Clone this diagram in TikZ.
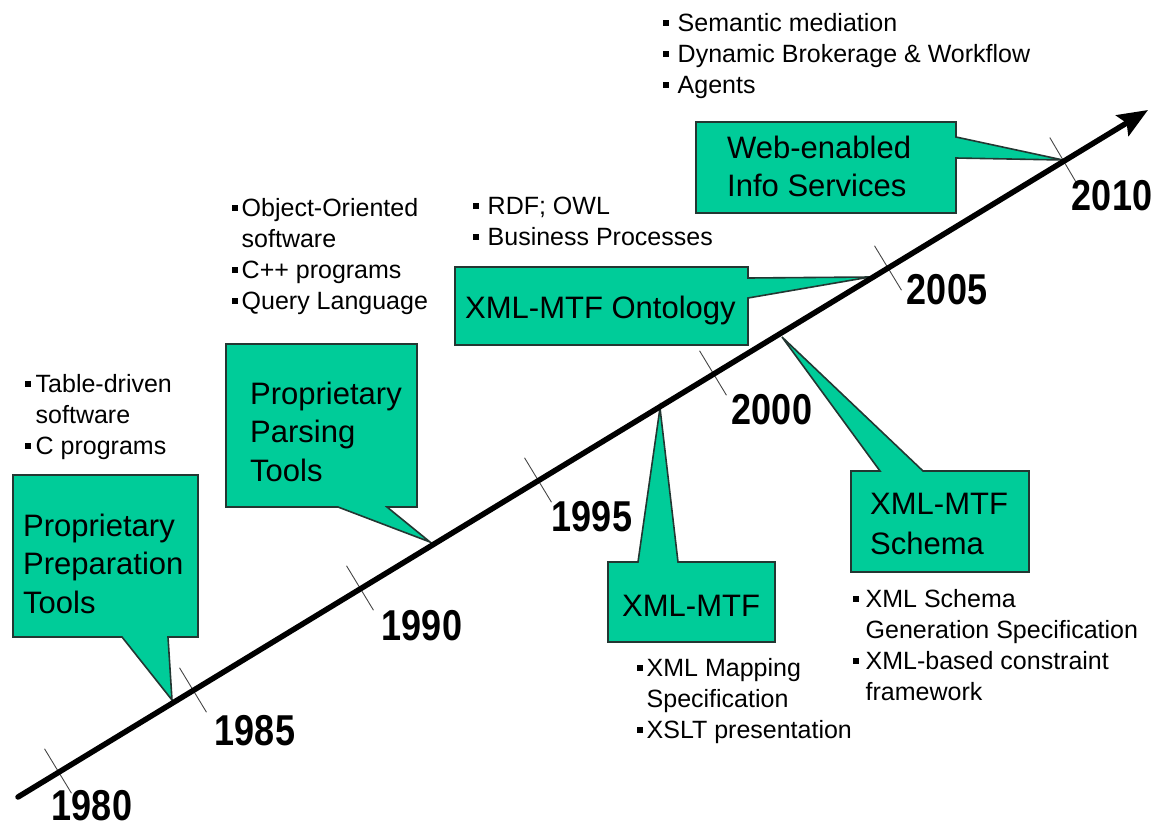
\documentclass[tikz,border=0pt]{standalone}
\usepackage{fontspec}
\setmainfont{Liberation Sans}
\usepackage{graphicx}
\usetikzlibrary{arrows.meta,calc,backgrounds}
\definecolor{calloutfill}{RGB}{0,204,153}
\definecolor{calloutedge}{RGB}{35,55,50}
\definecolor{tickgray}{RGB}{70,70,70}
\newcommand{\blt}{\rule[0.22em]{0.22em}{0.22em}}
\newcommand{\blist}[2]{\begin{tabular}[t]{@{}l@{\hspace{#1}}l@{}}#2\end{tabular}}
\newcommand{\btext}[1]{\begin{tabular}[t]{@{}l@{}}#1\end{tabular}}
\begin{document}
\begin{tikzpicture}[x=1pt,y=-1pt,
  callout/.style={fill=calloutfill,draw=calloutedge,line width=1.6pt,line join=miter},
  boxnode/.style={draw=none,inner sep=0pt,outer sep=0pt,rectangle},
  boxtext/.style={anchor=base west,inner sep=0pt,font=\fontsize{31}{38.5}\selectfont},
  listtext/.style={anchor=base west,inner sep=0pt,font=\fontsize{25}{31}\selectfont},
  yearlabel/.style={inner sep=0pt,font=\fontsize{36}{36}\selectfont\bfseries},
  tickline/.style={draw=tickgray,line width=0.9pt},
  axisline/.style={line width=5.5pt,line cap=round,-{Stealth[length=30pt,width=24pt,inset=5pt]}}]
\useasboundingbox (0,0) rectangle (1156,828);

% axis end points
\coordinate (a0) at (18,797);
\coordinate (a1) at (1148,110);

% tick positions
\coordinate (k1980) at (58,771);
\coordinate (k1985) at (193,690);
\coordinate (k1990) at (360,588);
\coordinate (k1995) at (538,480);
\coordinate (k2000) at (713,373);
\coordinate (k2005) at (888,268);
\coordinate (k2010) at (1063,160);

% callout tips
\coordinate (p1) at (172,700);
\coordinate (p2) at (430,542);
\coordinate (p3) at (870,277);
\coordinate (p4) at (660,408);
\coordinate (p5) at (782,337);
\coordinate (p6) at (1063,160);

% boxes
\node[boxnode,minimum width=185pt,minimum height=162pt] (b1) at (105.5,556) {};
\node[boxnode,minimum width=191pt,minimum height=163pt] (b2) at (321.5,425.5) {};
\node[boxnode,minimum width=293pt,minimum height=78pt] (b3) at (601.5,306) {};
\node[boxnode,minimum width=167pt,minimum height=80pt] (b4) at (691.5,602) {};
\node[boxnode,minimum width=178pt,minimum height=101pt] (b5) at (940,521.5) {};
\node[boxnode,minimum width=260pt,minimum height=91pt] (b6) at (826,167.5) {};

\begin{pgfonlayer}{background}
\draw[callout] (b1.north west) -- (b1.north east) -- (b1.south east)
  -- ($(b1.south west)+(155,0)$) -- (p1) -- ($(b1.south west)+(109,0)$) -- (b1.south west) -- cycle;
\draw[callout] (b2.north west) -- (b2.north east) -- (b2.south east)
  -- ($(b2.south west)+(161,0)$) -- (p2) -- ($(b2.south west)+(112,0)$) -- (b2.south west) -- cycle;
\draw[callout] (b3.north west) -- (b3.north east) -- ($(b3.north east)+(0,11)$)
  -- (p3) -- ($(b3.north east)+(0,31)$) -- (b3.south east) -- (b3.south west) -- cycle;
\draw[callout] (b4.north west) -- ($(b4.north west)+(30,0)$) -- (p4)
  -- ($(b4.north west)+(70,0)$) -- (b4.north east) -- (b4.south east) -- (b4.south west) -- cycle;
\draw[callout] (b5.north west) -- ($(b5.north west)+(29,0)$) -- (p5)
  -- ($(b5.north west)+(72,0)$) -- (b5.north east) -- (b5.south east) -- (b5.south west) -- cycle;
\draw[callout] (b6.north west) -- (b6.north east) -- ($(b6.north east)+(0,15)$)
  -- (p6) -- ($(b6.north east)+(0,36)$) -- (b6.south east) -- (b6.south west) -- cycle;
\end{pgfonlayer}

% ticks
\foreach \k in {k1980,k1985,k1990,k1995,k2000,k2005,k2010}{
  \draw[tickline] ($(\k)!26pt!90:(a1)$) -- ($(\k)!26pt!-90:(a1)$);
}

% axis
\draw[axisline] (a0) -- (a1);

% box texts
\node[boxtext] (t1) at (23,536) {\btext{Proprietary\\Preparation\\Tools}};
\node[boxtext] (t2) at (250,404) {\btext{Proprietary\\Parsing\\Tools}};
\node[boxtext] (t3) at (465,318) {XML-MTF Ontology};
\node[boxtext] (t4) at (622,616) {XML-MTF};
\node[boxtext,font=\fontsize{31}{40}\selectfont] (t5) at (870,514) {\btext{XML-MTF\\Schema}};
\node[boxtext] (t6) at (727,158) {\btext{Web-enabled\\Info Services}};

% year labels
\node[yearlabel] (y1980) at (92,806) {\scalebox{1}[1.2]{1980}};
\node[yearlabel] (y1985) at (255,731) {\scalebox{1}[1.2]{1985}};
\node[yearlabel] (y1990) at (422,626) {\scalebox{1}[1.2]{1990}};
\node[yearlabel] (y1995) at (592,517) {\scalebox{1}[1.2]{1995}};
\node[yearlabel] (y2000) at (772,410) {\scalebox{1}[1.2]{2000}};
\node[yearlabel] (y2005) at (947,290) {\scalebox{1}[1.2]{2005}};
\node[yearlabel] (y2010) at (1112,196) {\scalebox{1}[1.2]{2010}};

% bullet lists
\node[listtext] (la) at (25,392) {\blist{5pt}{\blt & Table-driven\\ & software\\ \blt & C programs}};
\node[listtext] (lb) at (232,216) {\blist{4pt}{\blt & Object-Oriented\\ & software\\ \blt & C++ programs\\ \blt & Query Language}};
\node[listtext] (lc) at (473,214) {\blist{9pt}{\blt & RDF; OWL\\ \blt & Business Processes}};
\node[listtext] (ld) at (663,31) {\blist{9pt}{\blt & Semantic mediation\\ \blt & Dynamic Brokerage \& Workflow\\ \blt & Agents}};
\node[listtext] (le) at (637,676) {\blist{4pt}{\blt & XML Mapping\\ & Specification\\ \blt & XSLT presentation}};
\node[listtext] (lf) at (853,607) {\blist{7pt}{\blt & XML Schema\\ & Generation Specification\\ \blt & XML-based constraint\\ & framework}};
\end{tikzpicture}
\end{document}
